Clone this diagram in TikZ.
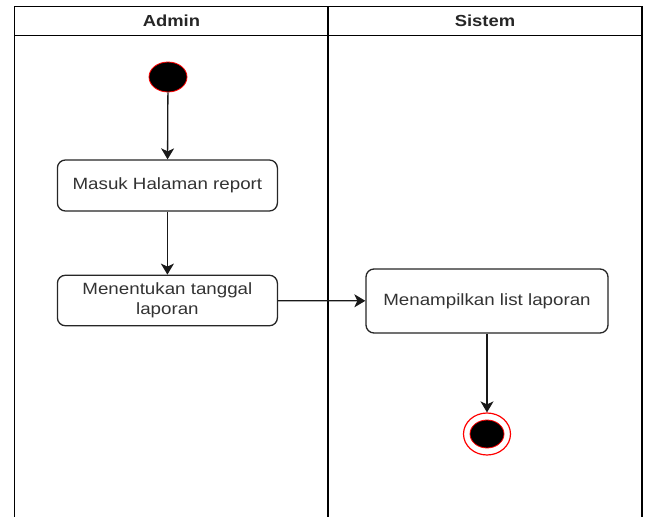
\documentclass[tikz,border=0pt]{standalone}
\usepackage{fontspec}
\setmainfont[FakeStretch=1.15]{Liberation Sans}
\usepackage{tikz}
\usetikzlibrary{arrows.meta,shapes.geometric}

\begin{document}
\begin{tikzpicture}[x=1pt,y=-1pt,
        act/.style={draw=black!85,line width=1.3pt,rounded corners=8pt,fill=white,
            inner sep=0pt,align=center,text=black!80,
            font=\fontsize{16.3}{19.5}\selectfont},
        lane/.style={draw=black,line width=1.5pt},
        lanehead/.style={font=\bfseries\fontsize{16}{18}\selectfont,text=black!85},
        flow/.style={draw=black!90,line width=1.3pt,-{Stealth[length=11pt,width=13pt,inset=3pt]}}]
        \useasboundingbox (0,0) rectangle (646,517);

        % swimlanes
        \draw[lane] (14.7,517) -- (14.7,6.7) -- (642,6.7) -- (642,517);
        \draw[lane] (328,6.7) -- (328,517);
        \draw[lane] (14.7,35.3) -- (642,35.3);
        \node[lanehead] (admin) at (171.4,21) {Admin};
        \node[lanehead] (sistem) at (485,21) {Sistem};

        \node[ellipse,draw=red,line width=0.8pt,fill=black,inner sep=0pt,
            minimum width=38pt,minimum height=30pt] (start) at (168,77) {};
        \node[act,minimum width=220pt,minimum height=51pt] (masuk) at (167.4,185.5) {Masuk Halaman report};
        \node[act,minimum width=220pt,minimum height=50.5pt] (tentukan) at (167.4,300.5) {Menentukan tanggal\\laporan};
        \node[act,minimum width=242pt,minimum height=64pt] (tampil) at (487,301) {Menampilkan list laporan};
        \node[ellipse,draw=red,line width=1.2pt,fill=white,inner sep=0pt,
            minimum width=47pt,minimum height=42pt] (end) at (487,434) {};
        \node[ellipse,draw=red,line width=0.8pt,fill=black,inner sep=0pt,
            minimum width=34pt,minimum height=28pt] (endcore) at (487,434) {};

        \draw[flow] (start) -- (masuk);
        \draw[flow] (masuk) -- (tentukan);
        \draw[flow] (tentukan) -- (tampil);
        \draw[flow] (tampil) -- (end);
    \end{tikzpicture}
\end{document}
